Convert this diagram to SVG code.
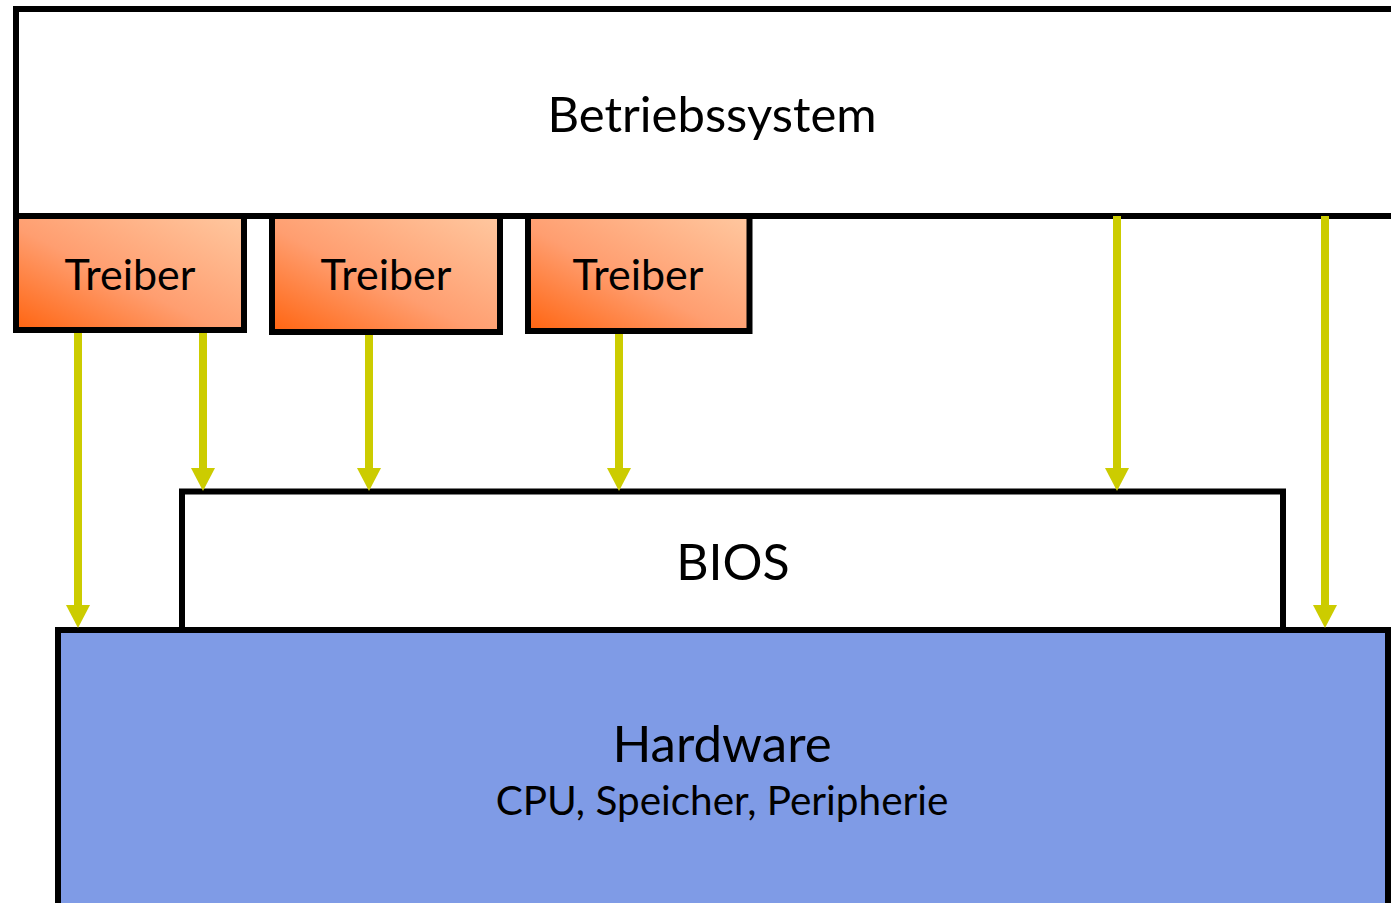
<svg xmlns="http://www.w3.org/2000/svg" width="1391" height="903" viewBox="0 0 1391 903">
<style>
.box{stroke:#000;stroke-width:6}
.lbl{font-family:"Lato","Open Sans",sans-serif;fill:#000;text-anchor:middle}
.arr{stroke:#cccc00;stroke-width:8;fill:none;marker-end:url(#ah)}
</style>
<defs>
<linearGradient id="tg" x1="0" y1="1" x2="1" y2="0">
<stop offset="0" stop-color="#ff6410"/>
<stop offset="0.45" stop-color="#ff9e70"/>
<stop offset="1" stop-color="#ffc8a0"/>
</linearGradient>
<marker id="ah" viewBox="0 0 23 24" refX="3" refY="12" markerWidth="23" markerHeight="24" markerUnits="userSpaceOnUse" orient="auto">
<path d="M0,0 L23,12 L0,24 z" fill="#cccc00"/>
</marker>
</defs>
<rect width="1391" height="903" fill="#fff"/>
<g id="hardware">
<rect class="box" x="58" y="630" width="1330" height="290" fill="#7f9be6"/>
<text class="lbl" x="722" y="762" font-size="51">Hardware</text>
<text class="lbl" x="722" y="815" font-size="40.5">CPU, Speicher, Peripherie</text>
</g>
<g id="bios">
<rect class="box" x="182" y="491.5" width="1101" height="138.5" fill="#fff"/>
<text class="lbl" x="733" y="580" font-size="50">BIOS</text>
</g>
<g id="os">
<rect class="box" x="16" y="9" width="1390" height="207" fill="#fff"/>
<text class="lbl" x="712" y="132" font-size="49">Betriebssystem</text>
</g>
<g id="treiber1">
<rect class="box" x="16" y="216" width="228" height="114" fill="url(#tg)"/>
<text class="lbl" x="130" y="290" font-size="43">Treiber</text>
</g>
<g id="treiber2">
<rect class="box" x="272" y="216" width="228" height="116" fill="url(#tg)"/>
<text class="lbl" x="386" y="290" font-size="43">Treiber</text>
</g>
<g id="treiber3">
<rect class="box" x="528" y="216" width="221.5" height="115" fill="url(#tg)"/>
<text class="lbl" x="638" y="290" font-size="43">Treiber</text>
</g>
<g id="connectors">
<line class="arr" x1="78" y1="333" x2="78" y2="608"/>
<line class="arr" x1="203" y1="333" x2="203" y2="471"/>
<line class="arr" x1="369" y1="335" x2="369" y2="471"/>
<line class="arr" x1="619" y1="334" x2="619" y2="471"/>
<line class="arr" x1="1117" y1="216" x2="1117" y2="471"/>
<line class="arr" x1="1325" y1="216" x2="1325" y2="608"/>
</g>
</svg>
